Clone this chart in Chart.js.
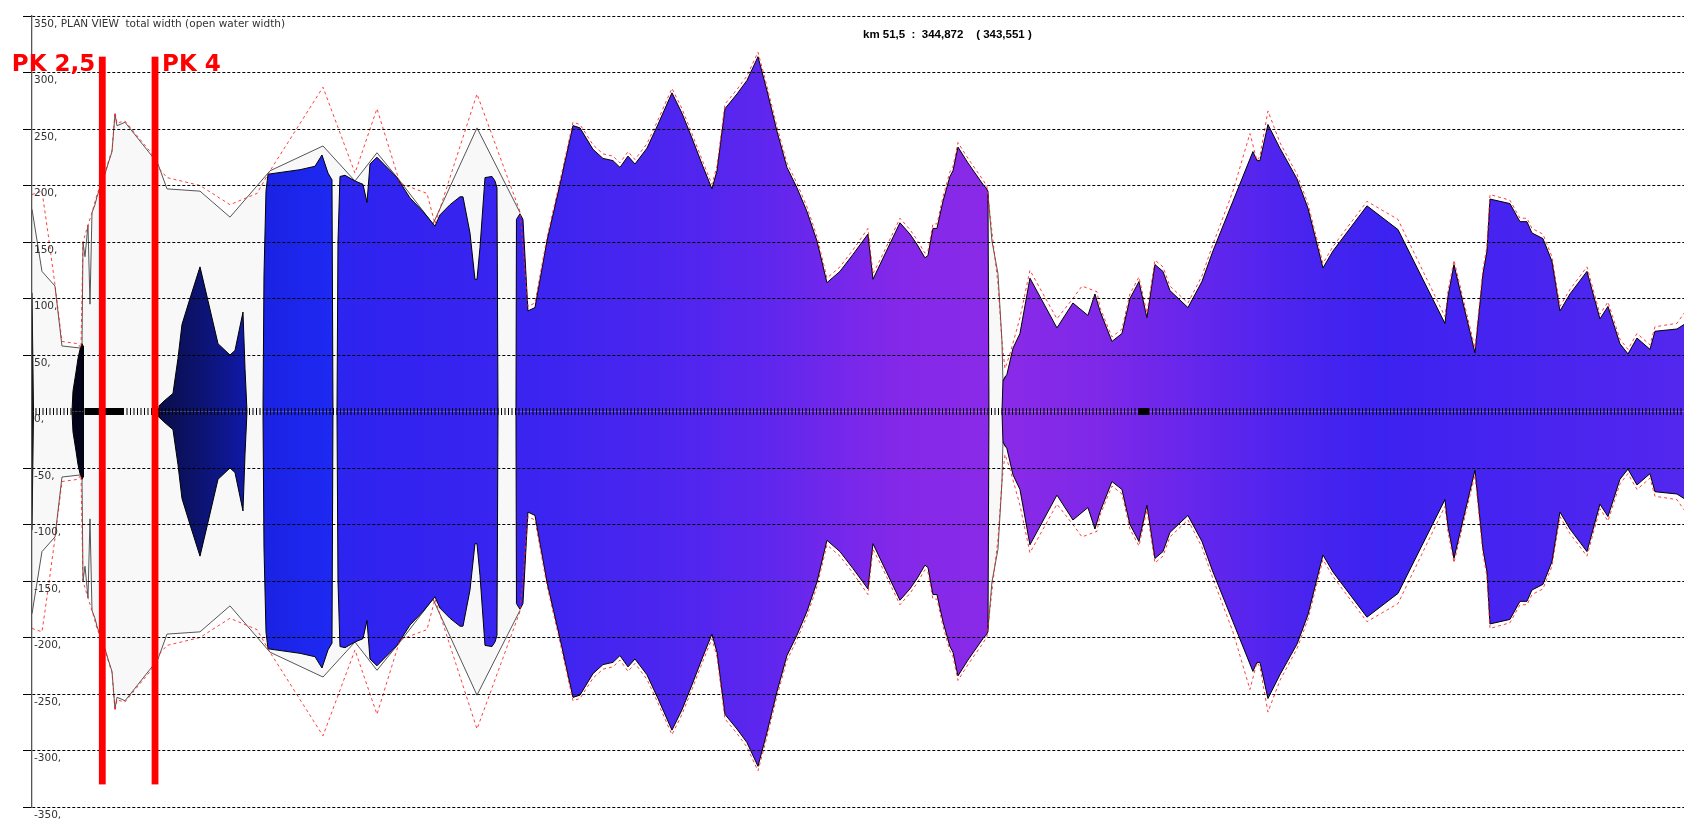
<!DOCTYPE html>
<html>
<head>
<meta charset="utf-8">
<script src="https://cdn.jsdelivr.net/npm/chart.js@4/dist/chart.umd.min.js"></script>
<style>
  html, body { margin: 0; padding: 0; background: #ffffff; }
  canvas { display: block; }
</style>
</head>
<body>
<canvas id="plan" width="1684" height="819"></canvas>
<script>
// ---- River reach in plan view: chainage (km) vs half-width (m), drawn mirrored about the axis ----
const reachStartKm = 0.5;
const reachEndKm = 47.5;

// Total width (bank to bank): upstream reach, then the short strip at km 27.6-28.2
const totalWidthProfile = [
  [0.500,179],[0.784,124],[1.154,111],[1.353,58],[1.922,56],[1.951,150],[2.008,137],[2.093,165],
  [2.150,95],[2.207,176],[2.292,183],[2.349,190],[2.435,198],[2.605,213],[2.662,219],[2.776,230],
  [2.861,263],[2.918,253],[3.004,254],[3.146,256],[3.914,226],[4.085,219],[4.341,197],[5.280,195],
  [6.133,172],[7.271,213],[8.779,235],[9.689,204],[10.315,229],[10.969,204],[11.908,166],[13.160,251],
  [14.383,176],
  [21.000,null],
  [27.584,200],[27.698,193],[27.811,151],[27.982,122],[28.096,62],[28.124,27],[28.181,31]
];

// Open water width (filled channel), broken where the channel is dry
const openWaterProfile = [
  [0.500,105],[0.528,105],[0.543,0],
  [1.000,null],
  [1.638,0],[1.666,18],[1.752,35],[1.809,47],[1.866,55],[1.922,60],[1.951,58],[1.965,0],
  [3.000,null],
  [4.085,0],[4.113,5],[4.284,10],[4.511,16],[4.653,47],[4.767,77],[4.995,100],[5.280,128],[5.507,98],
  [5.792,60],[6.133,50],[6.275,54],[6.503,88],[6.560,38],[6.617,0],
  [6.800,null],
  [7.072,0],[7.100,120],[7.157,195],[7.214,210],[8.124,214],[8.551,217],[8.750,227],[8.836,219],
  [8.921,211],[9.035,205],[9.063,0],
  [9.120,null],
  [9.177,0],[9.205,150],[9.262,208],[9.405,209],[9.689,204],[9.917,201],[10.031,185],[10.116,219],
  [10.315,225],[10.884,207],[11.254,189],[11.624,177],[11.965,164],[12.107,174],[12.392,183],[12.676,190],
  [12.762,190],[12.961,158],[13.103,117],[13.160,117],[13.245,145],[13.388,207],[13.587,208],[13.672,204],
  [13.729,198],[13.758,0],
  [14.000,null],
  [14.269,0],[14.283,170],[14.383,175],[14.468,170],[14.610,89],[14.810,92],[15.151,151],[15.521,201],
  [15.891,253],[16.090,251],[16.460,232],[16.744,224],[17.029,222],[17.228,216],[17.456,226],[17.655,219],
  [17.996,233],[18.309,254],[18.707,282],[18.992,264],[19.276,242],[19.561,219],[19.845,197],[19.988,213],
  [20.215,268],[20.557,281],[20.841,293],[21.155,314],[21.410,284],[21.695,248],[21.979,216],[22.263,198],
  [22.548,177],[22.832,151],[23.117,114],[23.487,124],[23.857,139],[24.283,157],[24.426,117],[24.625,130],
  [25.194,167],[25.478,157],[25.677,148],[25.905,136],[25.990,138],[26.132,162],[26.246,162],[26.417,186],
  [26.616,208],[26.702,213],[26.844,234],[27.128,220],[27.555,201],[27.641,198],[27.698,195],[27.726,0],
  [27.900,null],
  [28.096,0],[28.124,27],[28.238,33],[28.409,56],[28.608,69],[28.892,118],[29.660,74],[30.115,96],
  [30.542,85],[30.741,104],[30.884,89],[31.225,62],[31.509,69],[31.737,100],[31.993,115],[32.220,83],
  [32.448,130],[32.676,124],[32.875,107],[33.387,92],[33.785,115],[34.098,142],[34.667,186],[35.236,230],
  [35.350,222],[35.436,222],[35.663,254],[36.004,233],[36.488,206],[36.801,180],[37.228,127],[37.512,142],
  [38.480,182],[39.362,161],[40.699,78],[40.785,102],[40.956,130],[41.183,100],[41.553,52],[41.781,122],
  [41.894,142],[41.980,188],[42.548,184],[42.833,168],[43.032,168],[43.174,158],[43.487,153],[43.743,133],
  [43.971,89],[44.255,104],[44.739,124],[45.109,82],[45.337,93],[45.678,60],[45.906,51],[46.162,65],
  [46.532,55],[46.674,71],[47.300,73],[47.500,77]
];

// Comparison width (dashed red)
const referenceProfile = [
  [0.500,192],[0.784,195],[0.955,158],[1.154,112],[1.353,62],[1.809,60],[1.894,56],[1.951,150],
  [2.093,165],[2.207,176],[2.349,192],[2.435,199],[2.605,214],[2.662,220],[2.776,231],[2.861,265],
  [2.918,255],[3.004,256],[3.146,257],[3.914,228],[4.056,217],[4.341,207],[5.280,200],[6.133,183],
  [6.901,193],[7.271,213],[8.779,287],[9.689,211],[10.315,268],[10.969,202],[11.737,193],[11.965,166],
  [13.160,281],[14.383,177],[14.610,93],[14.810,96],[15.151,154],[15.521,204],[15.891,256],[16.090,254],
  [16.460,236],[16.744,228],[17.029,226],[17.228,220],[17.456,230],[17.655,223],[17.996,237],[18.309,258],
  [18.707,286],[18.992,268],[19.276,246],[19.561,223],[19.845,201],[19.988,217],[20.215,272],[20.557,285],
  [20.841,297],[21.155,318],[21.410,288],[21.695,252],[21.979,220],[22.263,202],[22.548,181],[22.832,155],
  [23.117,118],[23.487,128],[23.857,143],[24.283,162],[24.426,122],[24.625,134],[25.194,171],[25.478,161],
  [25.677,152],[25.905,140],[25.990,142],[26.132,166],[26.246,166],[26.417,190],[26.616,212],[26.702,217],
  [26.844,238],[27.128,224],[27.555,205],[27.669,199],[27.840,151],[27.982,113],[28.096,62],[28.181,38],
  [28.324,51],[28.608,83],[28.892,125],[29.660,82],[30.115,100],[30.372,111],[30.799,106],[30.884,92],
  [31.225,66],[31.509,73],[31.737,104],[31.993,119],[32.220,87],[32.448,134],[32.676,128],[32.875,111],
  [33.387,96],[33.785,120],[34.098,148],[34.667,195],[35.151,246],[35.350,222],[35.436,226],[35.663,266],
  [36.004,238],[36.488,210],[36.801,184],[37.228,131],[37.512,146],[38.480,186],[39.362,170],[40.699,84],
  [40.785,106],[40.956,134],[41.183,104],[41.553,56],[41.781,126],[41.894,146],[41.980,192],[42.548,187],
  [42.833,171],[43.032,171],[43.174,162],[43.487,157],[43.743,137],[43.971,93],[44.255,108],[44.739,128],
  [45.109,86],[45.337,97],[45.678,64],[45.906,55],[46.162,69],[46.532,59],[46.674,75],[47.300,78],[47.500,87]
];

// Runs of closely spaced cross-sections on the centreline (km from, km to)
const denseSectionRuns = [[2.008, 3.117], [31.965, 32.278]];

// PK markers
const pkKm = [2.5, 4];
const pkLabels = ['PK 2,5', 'PK 4'];
const pkLabelSide = [-1, 1];
const pkTopWidth = 314;
const pkBottomWidth = -330;

// Y axis ticks
const widthTicks = [350, 300, 250, 200, 150, 100, 50, 0, -50, -100, -150, -200, -250, -300, -350];
const widthTickLabels = ['350, PLAN VIEW  total width (open water width)', '300,', '250,', '200,', '150,',
  '100,', '50,', '0,', '-50,', '-100,', '-150,', '-200,', '-250,', '-300,', '-350,'];

const readoutText = 'km 51,5  :  344,872    ( 343,551 )';

// Colour ramp of the open-water fill along the reach
const rampKm = [0.5, 1.951, 4.085, 5.280, 6.617, 7.072, 8.124, 9.120, 9.205, 10.969, 14.383, 18.081,
  21.211, 24.056, 25.194, 27.641, 28.124, 30.884, 33.729, 36.574, 38.850, 41.695, 47.5];
const rampColor = ['#00000c', '#03031c', '#0a0e48', '#0c1370', '#1019a8', '#1a22e2', '#1c26ec', '#1e29f2',
  '#2c24f0', '#3323f0', '#3a24f0', '#4a25ef', '#5d26ee', '#7a28ea', '#8428e9', '#8a2ae8', '#8a2ae8',
  '#7e28e8', '#6426ec', '#4a24ef', '#3c22f0', '#4523f0', '#5327ee'];

// ---- helpers ----
function side(profile, sign) {
  return profile.map(([x, w]) => ({ x, y: w === null ? null : sign * w }));
}

function rampFill(context) {
  const chart = context.chart;
  const area = chart.chartArea;
  if (!area) return '#3a24f0';
  const xs = chart.scales.x;
  const g = chart.ctx.createLinearGradient(area.left, 0, area.right, 0);
  const span = area.right - area.left;
  rampKm.forEach((km, i) => {
    const f = (xs.getPixelForValue(km) - area.left) / span;
    g.addColorStop(Math.min(1, Math.max(0, f)), rampColor[i]);
  });
  return g;
}

const common = { pointRadius: 0, pointHoverRadius: 0, tension: 0, spanGaps: false, borderJoinStyle: 'round' };

const centreline = [{ x: reachStartKm, y: 0 }, { x: reachEndKm, y: 0 }];
const denseRuns = [];
denseSectionRuns.forEach(([a, b], i) => {
  if (i > 0) denseRuns.push({ x: (a + denseSectionRuns[i - 1][1]) / 2, y: null });
  denseRuns.push({ x: a, y: 0 }, { x: b, y: 0 });
});

// PK lines, their labels and the cursor readout, drawn above the grid
const annotations = {
  id: 'annotations',
  afterDraw(chart) {
    const { ctx, scales: { x, y } } = chart;
    ctx.save();
    const top = y.getPixelForValue(pkTopWidth);
    const bottom = y.getPixelForValue(pkBottomWidth);
    pkKm.forEach((km, i) => {
      const px = x.getPixelForValue(km);
      ctx.fillStyle = '#ff0000';
      ctx.fillRect(px - 3.4, top, 6.8, bottom - top);
      ctx.font = 'bold 23px "DejaVu Sans"';
      ctx.textBaseline = 'alphabetic';
      ctx.textAlign = pkLabelSide[i] < 0 ? 'right' : 'left';
      ctx.fillText(pkLabels[i], px + pkLabelSide[i] * 7, top + 14);
    });
    ctx.fillStyle = '#000000';
    ctx.font = 'bold 11.5px "Liberation Sans"';
    ctx.textAlign = 'left';
    ctx.textBaseline = 'alphabetic';
    ctx.fillText(readoutText, 863, 38);
    ctx.restore();
  }
};

new Chart(document.getElementById('plan'), {
  type: 'line',
  data: {
    datasets: [
      Object.assign({ label: 'dense sections', data: denseRuns, borderColor: '#000000', borderWidth: 7,
        fill: false, order: 1 }, common),
      Object.assign({ label: 'centreline', data: centreline, borderColor: '#000000', borderWidth: 7,
        borderDash: [1, 2.5], fill: false, order: 2 }, common),
      Object.assign({ label: 'reference +', data: side(referenceProfile, 1), borderColor: 'rgba(255,30,30,0.85)',
        borderWidth: 1, borderDash: [3, 3], fill: false, order: 4 }, common),
      Object.assign({ label: 'reference -', data: side(referenceProfile, -1), borderColor: 'rgba(255,30,30,0.85)',
        borderWidth: 1, borderDash: [3, 3], fill: false, order: 4 }, common),
      Object.assign({ label: 'open water +', data: side(openWaterProfile, 1), borderColor: '#000000', borderWidth: 1,
        backgroundColor: rampFill, fill: 'origin', order: 6 }, common),
      Object.assign({ label: 'open water -', data: side(openWaterProfile, -1), borderColor: '#000000', borderWidth: 1,
        backgroundColor: rampFill, fill: 'origin', order: 6 }, common),
      Object.assign({ label: 'total width +', data: side(totalWidthProfile, 1), borderColor: '#555555', borderWidth: 1,
        backgroundColor: '#f8f8f8', fill: 'origin', order: 8 }, common),
      Object.assign({ label: 'total width -', data: side(totalWidthProfile, -1), borderColor: '#555555', borderWidth: 1,
        backgroundColor: '#f8f8f8', fill: 'origin', order: 8 }, common)
    ]
  },
  options: {
    responsive: false,
    animation: false,
    devicePixelRatio: 1,
    layout: { padding: { top: 16, bottom: 12, left: 0, right: 0 } },
    plugins: { legend: { display: false }, tooltip: { enabled: false }, title: { display: false } },
    events: [],
    scales: {
      x: { type: 'linear', min: reachStartKm, max: reachEndKm, display: false },
      y: {
        type: 'linear',
        min: -350,
        max: 350,
        z: 1,
        afterFit(scale) { scale.width = 32; scale.paddingTop = 0; scale.paddingBottom = 0; },
        afterBuildTicks(scale) { scale.ticks = widthTicks.map(v => ({ value: v })); },
        ticks: {
          z: 2,
          mirror: true,
          padding: 2,
          labelOffset: 8,
          color: '#333333',
          font: { family: 'DejaVu Sans', size: 10.5 },
          callback: (v) => {
            const i = widthTicks.indexOf(v);
            return i >= 0 ? widthTickLabels[i] : '';
          }
        },
        grid: {
          z: 1,
          color: (c) => (c.tick && c.tick.value === 0 ? 'rgba(0,0,0,0)' : '#000000'),
          lineWidth: 1,
          drawTicks: true,
          tickLength: 9,
          tickColor: (c) => (c.tick && c.tick.value === 0 ? 'rgba(0,0,0,0)' : '#000000'),
          tickWidth: 1
        },
        border: { z: 2, display: true, color: '#555555', width: 1.3, dash: [3, 2] }
      }
    }
  },
  plugins: [annotations]
});
</script>
</body>
</html>
